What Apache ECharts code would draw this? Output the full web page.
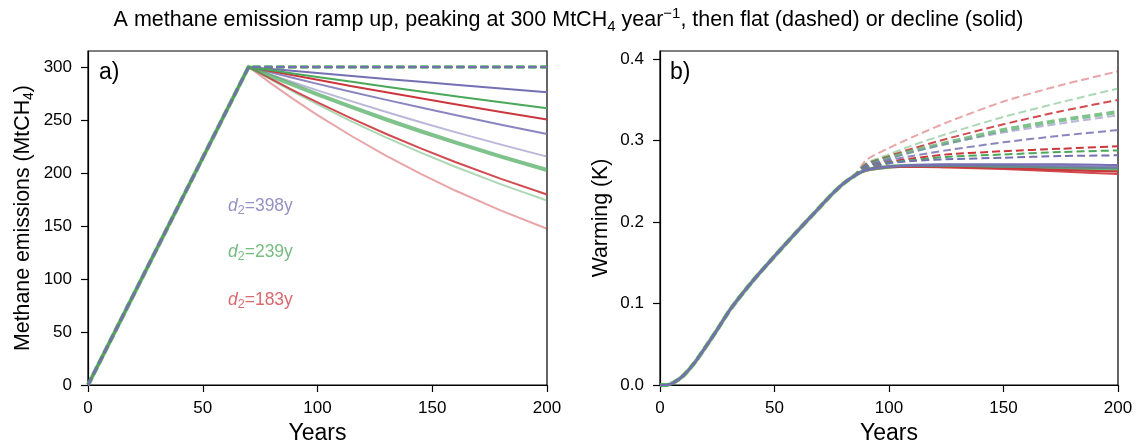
<!DOCTYPE html>
<html><head><meta charset="utf-8">
<script src="https://cdn.jsdelivr.net/npm/echarts@6/dist/echarts.min.js"></script>
<style>html,body{margin:0;padding:0;background:#fff}#c{width:1137px;height:444px}</style>
</head><body><div id="c"></div>
<script>
// ---------- data ----------
const xTicks = [0, 50, 100, 150, 200];
const emisYTicks = [0, 50, 100, 150, 200, 250, 300];
const warmYTicks = [0, 0.1, 0.2, 0.3, 0.4];

// Panel a: emissions (MtCH4/yr)
const emisYears = [0, 70, 80, 90, 100, 115, 130, 145, 160, 180, 200];
const flatYears = [0, 70, 200];
const emisFlat = [0, 300, 300];
const emisA = [0, 300, 298.1, 296.2, 294.3, 291.5, 288.7, 285.9, 283.2, 279.6, 276.0];
const emisB = [0, 300, 296.8, 293.6, 290.5, 285.9, 281.3, 276.8, 272.4, 266.7, 261.0];
const emisC = [0, 300, 295.9, 291.8, 287.8, 281.8, 276.0, 270.4, 264.8, 257.5, 250.5];
const emisD = [0, 300, 294.6, 289.3, 284.0, 276.4, 268.9, 261.7, 254.6, 245.5, 236.7];
const emisE = [0, 300, 292.5, 285.1, 277.9, 267.5, 257.5, 247.8, 238.5, 226.7, 215.4];
const emisF = [0, 300, 291.1, 282.5, 274.1, 262.0, 250.4, 239.3, 228.8, 215.4, 202.8];
const emisG = [0, 300, 288.4, 277.2, 266.5, 251.2, 236.7, 223.1, 210.3, 194.4, 179.6];
const emisH = [0, 300, 287.7, 275.9, 264.6, 248.4, 233.3, 219.1, 205.8, 189.2, 174.0];
const emisI = [0, 300, 284.0, 268.9, 254.6, 234.6, 216.1, 199.1, 183.4, 164.4, 147.4];

// Panel b: warming (K)
const rampYears = [0, 3, 6, 10, 15, 20, 25, 31, 40, 50, 60, 70, 75, 80, 85];
const rampWarm = [0, 0.000, 0.003, 0.011, 0.027, 0.047, 0.068, 0.094, 0.126, 0.158, 0.189, 0.219, 0.234, 0.247, 0.257];
const tailYears = [90, 100, 110, 125, 150, 175, 200];
// flat emissions (dashed)
const flatA = [0.266, 0.272, 0.275, 0.277, 0.279, 0.281, 0.282];
const flatB = [0.267, 0.273, 0.276, 0.280, 0.283, 0.286, 0.288];
const flatC = [0.268, 0.274, 0.278, 0.283, 0.287, 0.290, 0.293];
const flatD = [0.269, 0.276, 0.281, 0.288, 0.298, 0.306, 0.313];
const flatE = [0.270, 0.278, 0.286, 0.296, 0.310, 0.321, 0.331];
const flatF = [0.270, 0.279, 0.287, 0.297, 0.313, 0.325, 0.335];
const flatG = [0.271, 0.281, 0.290, 0.302, 0.320, 0.336, 0.350];
const flatH = [0.272, 0.283, 0.294, 0.308, 0.329, 0.347, 0.364];
const flatI = [0.276, 0.291, 0.304, 0.322, 0.348, 0.368, 0.385];
// declining emissions (solid)
const declA = [0.264, 0.268, 0.270, 0.271, 0.271, 0.271, 0.270];
const declB = [0.264, 0.268, 0.269, 0.269, 0.268, 0.267, 0.266];
const declC = [0.264, 0.268, 0.268, 0.268, 0.266, 0.264, 0.262];
const declD = [0.264, 0.268, 0.269, 0.270, 0.270, 0.269, 0.268];
const declE = [0.264, 0.268, 0.269, 0.269, 0.268, 0.267, 0.266];
const declF = [0.264, 0.268, 0.269, 0.269, 0.268, 0.266, 0.264];
const declG = [0.263, 0.267, 0.268, 0.267, 0.265, 0.262, 0.259];
const declH = [0.264, 0.268, 0.269, 0.268, 0.267, 0.265, 0.263];
const declI = [0.264, 0.268, 0.268, 0.268, 0.266, 0.264, 0.262];

// annotations
const annoLabels = ['398y', '239y', '183y'];
const annoPos = [[61, 169], [61, 125], [61, 80]];

// ---------- styling ----------
const FONT = '"Liberation Sans", Arial, Helvetica, sans-serif';
const PURPLE = '#7570b3', GREEN = '#4aa85a', RED = '#cc373e';
const annoColors = ['#7b75b7', '#52ad60', '#cf434a'];

const scen = {
  A: {c: PURPLE, o: 1.0, w: 2, e: emisA, f: flatA, d: declA},
  B: {c: GREEN, o: 1.0, w: 2, e: emisB, f: flatB, d: declB},
  C: {c: RED, o: 1.0, w: 2, e: emisC, f: flatC, d: declC},
  D: {c: PURPLE, o: 0.85, w: 2, e: emisD, f: flatD, d: declD},
  E: {c: PURPLE, o: 0.5, w: 2, e: emisE, f: flatE, d: declE},
  F: {c: GREEN, o: 0.7, w: 4, e: emisF, f: flatF, d: declF},
  G: {c: RED, o: 0.9, w: 2, e: emisG, f: flatG, d: declG},
  H: {c: GREEN, o: 0.45, w: 2, e: emisH, f: flatH, d: declH},
  I: {c: RED, o: 0.45, w: 2, e: emisI, f: flatI, d: declI}
};
const orderLeftSolid = ['I', 'H', 'G', 'E', 'D', 'A', 'C', 'F', 'B'];
const orderLeftDash = ['I', 'H', 'G', 'F', 'C', 'B', 'E', 'D', 'A'];
const orderRight = ['I', 'H', 'G', 'F', 'C', 'B', 'E', 'D', 'A'];

function mk(idx, xs, ys, s, dashed, smooth) {
  return {
    type: 'line', xAxisIndex: idx, yAxisIndex: idx, silent: true, animation: false,
    symbol: 'none', showSymbol: false,
    smooth: smooth ? 0.25 : false,
    data: xs.map((x, i) => [x, ys[i]]),
    lineStyle: {color: s.c, opacity: s.o, width: s.w, type: dashed ? [8, 4] : 'solid', cap: 'butt', join: 'round'},
    emphasis: {disabled: true}
  };
}

const series = [];
orderLeftSolid.forEach(k => series.push(mk(0, emisYears, scen[k].e, scen[k], false, false)));
orderLeftDash.forEach(k => series.push(mk(0, flatYears, emisFlat, scen[k], true, false)));
orderRight.forEach(k => series.push(mk(1, rampYears.concat(tailYears), rampWarm.concat(scen[k].f), scen[k], true, true)));
orderRight.forEach(k => series.push(mk(1, rampYears.concat(tailYears), rampWarm.concat(scen[k].d), scen[k], false, true)));

annoLabels.forEach((lab, i) => {
  series.push({
    type: 'scatter', xAxisIndex: 0, yAxisIndex: 0, silent: true, animation: false,
    symbolSize: 0, data: [annoPos[i]],
    label: {
      show: true, position: 'right', distance: 0,
      formatter: '{i|d}{s|2}{n|=' + lab + '}',
      rich: {
        i: {fontFamily: FONT, fontStyle: 'italic', fontSize: 17.5, color: annoColors[i], lineHeight: 22},
        s: {fontFamily: FONT, fontSize: 12.5, color: annoColors[i], lineHeight: 12, verticalAlign: 'bottom'},
        n: {fontFamily: FONT, fontSize: 17.5, color: annoColors[i], lineHeight: 22}
      }
    }
  });
});

function xAx(idx) {
  return {
    type: 'value', gridIndex: idx, min: 0, max: 200, interval: 50,
    name: 'Years', nameLocation: 'middle', nameGap: 36,
    nameTextStyle: {fontFamily: FONT, fontSize: 23, color: '#000'},
    axisLine: {show: true, onZero: false, lineStyle: {color: '#000', width: 1.2}},
    axisTick: {show: true, length: 7, customValues: xTicks, lineStyle: {color: '#000', width: 1.2}},
    axisLabel: {fontFamily: FONT, fontSize: 17, color: '#000', margin: 15, customValues: xTicks},
    splitLine: {show: false}
  };
}

const gridBase = {top: 51, bottom: 59, show: true, borderColor: '#000', borderWidth: 1.2,
  backgroundColor: 'transparent', containLabel: false, outerBoundsMode: 'none'};

const option = {
  backgroundColor: '#fff',
  animation: false,
  title: {
    left: 'center', top: 1,
    text: 'A methane emission ramp up, peaking at 300 MtCH{sub|4} year{sup|\u22121}, then flat (dashed) or decline (solid)',
    textStyle: {
      fontFamily: FONT, fontSize: 21.5, fontWeight: 'normal', color: '#000', lineHeight: 28,
      rich: {
        sub: {fontFamily: FONT, fontSize: 15, color: '#000', lineHeight: 15, verticalAlign: 'bottom'},
        sup: {fontFamily: FONT, fontSize: 15, color: '#000', lineHeight: 15, verticalAlign: 'top'}
      }
    }
  },
  grid: [
    Object.assign({left: 88, right: 590}, gridBase),
    Object.assign({left: 660, right: 19}, gridBase)
  ],
  xAxis: [xAx(0), xAx(1)],
  yAxis: [
    {
      type: 'value', gridIndex: 0, min: 0, max: 315, interval: 50,
      name: 'Methane emissions (MtCH{s|4})', nameLocation: 'middle', nameGap: 52,
      nameTextStyle: {fontFamily: FONT, fontSize: 21.3, color: '#000', lineHeight: 26,
        rich: {s: {fontFamily: FONT, fontSize: 14, color: '#000', lineHeight: 14, verticalAlign: 'bottom'}}},
      axisLine: {show: true, onZero: false, lineStyle: {color: '#000', width: 1.2}},
      axisTick: {show: true, length: 7, customValues: emisYTicks, lineStyle: {color: '#000', width: 1.2}},
      axisLabel: {fontFamily: FONT, fontSize: 17, color: '#000', margin: 16, customValues: emisYTicks},
      splitLine: {show: false}
    },
    {
      type: 'value', gridIndex: 1, min: 0, max: 0.41, interval: 0.1,
      name: 'Warming (K)', nameLocation: 'middle', nameGap: 48,
      nameTextStyle: {fontFamily: FONT, fontSize: 21.3, color: '#000'},
      axisLine: {show: true, onZero: false, lineStyle: {color: '#000', width: 1.2}},
      axisTick: {show: true, length: 7, customValues: warmYTicks, lineStyle: {color: '#000', width: 1.2}},
      axisLabel: {fontFamily: FONT, fontSize: 17, color: '#000', margin: 16, customValues: warmYTicks,
        formatter: v => v.toFixed(1)},
      splitLine: {show: false}
    }
  ],
  graphic: [
    {type: 'text', left: 99, top: 61, silent: true, style: {text: 'a)', font: '23px ' + FONT, fill: '#000'}},
    {type: 'text', left: 670, top: 61, silent: true, style: {text: 'b)', font: '23px ' + FONT, fill: '#000'}}
  ],
  series: series
};

const chart = echarts.init(document.getElementById('c'), null, {renderer: 'canvas'});
chart.setOption(option);
</script>
</body></html>
